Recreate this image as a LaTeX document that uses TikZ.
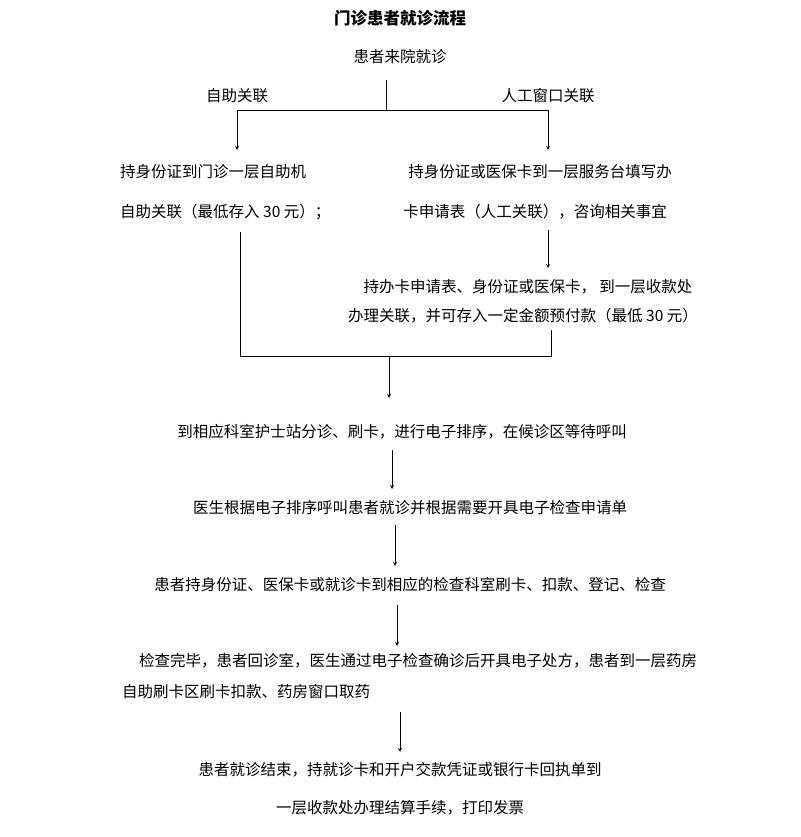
\documentclass[tikz,border=0pt]{standalone}
\usepackage{fontspec}
\setmainfont{Noto Sans CJK SC}
\begin{document}
\begin{tikzpicture}[x=1pt,y=-1pt,
  t/.style={inner sep=0pt,font=\fontsize{15.5}{17}\selectfont},
  arr/.style={-stealth,line width=0.8pt},
  ln/.style={line width=0.8pt}]
\useasboundingbox (0,0) rectangle (800,837);
\node[t,font=\bfseries\fontsize{16.5}{18}\selectfont] (title) at (400,18) {门诊患者就诊流程};
\node[t] (start) at (400,57) {患者来院就诊};
\coordinate (s0) at (386,80);
\coordinate (sj) at (386,110);
\coordinate (lj) at (237,110);
\coordinate (rj) at (548,110);
\draw[ln] (s0) -- (sj);
\draw[ln] (lj) -- (rj);
\node[t] (ll) at (237,96) {自助关联};
\node[t] (rl) at (548,96) {人工窗口关联};
\node[t,anchor=west] (a1) at (120,172) {持身份证到门诊一层自助机};
\node[t,anchor=west] (a2) at (120,212) {自助关联（最低存入 30 元）；};
\node[t] (b1) at (540,172) {持身份证或医保卡到一层服务台填写办};
\node[t] (b2) at (535,212) {卡申请表（人工关联），咨询相关事宜};
\draw[arr] (lj) -- (237,150);
\draw[arr] (rj) -- (548,150);
\draw[arr] (548,230) -- (548,268);
\node[t] (c1) at (528,287) {持办卡申请表、身份证或医保卡，\ 到一层收款处};
\node[t] (c2) at (523,316) {办理关联，并可存入一定金额预付款（最低 30 元）};
\coordinate (m) at (389,356);
\draw[ln] (240,232) -- (240,356) -- (551,356) -- (551,330);
\node[t] (d) at (402,432) {到相应科室护士站分诊、刷卡，进行电子排序，在候诊区等待呼叫};
\draw[arr] (m) -- (389,398);
\node[t] (e) at (410,508) {医生根据电子排序呼叫患者就诊并根据需要开具电子检查申请单};
\draw[arr] (392,450) -- (392,489);
\node[t] (f) at (410,585) {患者持身份证、医保卡或就诊卡到相应的检查科室刷卡、扣款、登记、检查};
\draw[arr] (395,525) -- (395,566);
\node[t] (g1) at (418,661) {检查完毕，患者回诊室，医生通过电子检查确诊后开具电子处方，患者到一层药房};
\node[t,anchor=west] (g2) at (122,692) {自助刷卡区刷卡扣款、药房窗口取药};
\draw[arr] (397,605) -- (397,646);
\node[t] (h1) at (400,770) {患者就诊结束，持就诊卡和开户交款凭证或银行卡回执单到};
\node[t] (h2) at (400,808) {一层收款处办理结算手续，打印发票};
\draw[arr] (400,712) -- (400,752);
\end{tikzpicture}
\end{document}
